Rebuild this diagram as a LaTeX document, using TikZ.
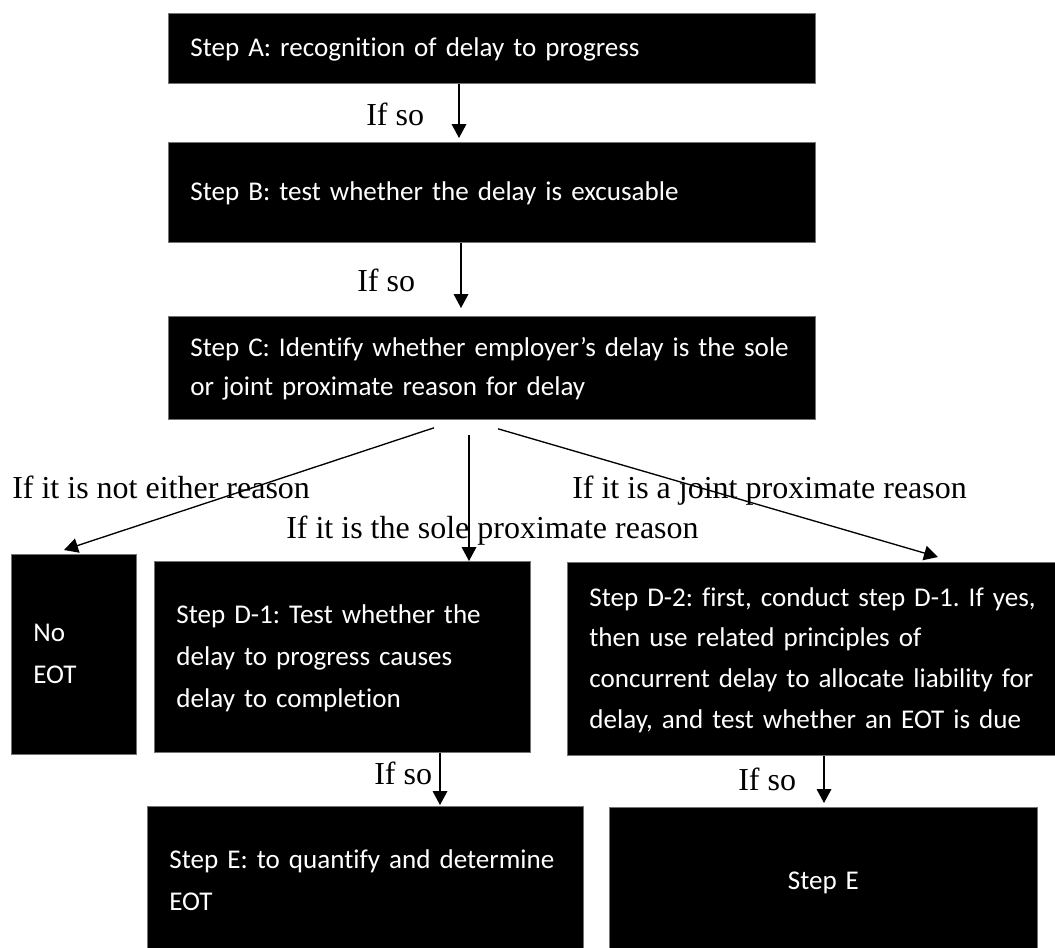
\documentclass[tikz,border=0pt]{standalone}
\usepackage{fontspec}
\setmainfont{Liberation Serif}
\newfontfamily\boxfont[Ligatures={NoCommon}]{Carlito}
\usetikzlibrary{arrows.meta,calc}

% left-aligned block of lines that never re-wraps
\newcommand\rows[1]{\begin{tabular}{@{}l@{}}#1\end{tabular}}

\begin{document}
\frenchspacing
\begin{tikzpicture}[x=0.75pt,y=-0.75pt,
  stepbox/.style={draw=black!55, line width=0.6pt, fill=black, text=white,
    font=\boxfont\frenchspacing\fontsize{20.3}{31.5}\selectfont, anchor=north west,
    inner xsep=16.5pt, inner ysep=0pt, align=left},
  lbl/.style={font=\fontsize{24}{28}\selectfont, anchor=base west, inner sep=0pt},
  arr/.style={-{Triangle[length=10.5pt,width=11pt]}, line width=1pt}]

\useasboundingbox (0,0) rectangle (1055,947);

% main chain
\node[stepbox, minimum width=485.25pt, minimum height=52.5pt, text width=452.25pt]
  (A) at (168,13) {\rows{Step A: recognition of delay to progress}};
\node[stepbox, minimum width=485.25pt, minimum height=75pt, text width=452.25pt]
  (B) at (168,142) {\rows{Step B: test whether the delay is excusable}};
\node[stepbox, minimum width=485.25pt, minimum height=77.25pt, text width=452.25pt,
  font=\boxfont\frenchspacing\fontsize{20.3}{29.5}\selectfont]
  (C) at (168,316) {\rows{Step C: Identify whether employer’s delay is the sole\\
  or joint proximate reason for delay}};

% outcomes of step C
\node[stepbox, minimum width=93.75pt, minimum height=150pt, text width=60.75pt]
  (N) at (11,554) {\rows{No\\EOT}};
\node[stepbox, minimum width=282pt, minimum height=143.25pt, text width=249pt]
  (D1) at (154,561) {\rows{Step D-1: Test whether the\\delay to progress causes\\delay to completion}};
\node[stepbox, minimum width=375pt, minimum height=144.75pt, text width=342pt,
  font=\boxfont\frenchspacing\fontsize{20.3}{30.5}\selectfont]
  (D2) at (567,562) {\rows{Step D-2: first, conduct step D-1. If yes,\\then use related principles of\\
  concurrent delay to allocate liability for\\delay, and test whether an EOT is due}};

% final step
\node[stepbox, minimum width=327pt, minimum height=112.5pt, text width=294pt]
  (E1) at (147,806) {\rows{Step E: to quantify and determine\\EOT}};
\node[stepbox, minimum width=321pt, minimum height=112.5pt, text width=288pt, align=center]
  (E2) at (609,807) {Step E};

% branch labels
\node[lbl] (s1) at (366,125) {If so};
\node[lbl] (s2) at (357,291) {If so};
\node[lbl] (rn) at (12,498) {If it is not either reason};
\node[lbl] (rs) at (286,538) {If it is the sole proximate reason};
\node[lbl] (rj) at (572,498) {If it is a joint proximate reason};
\node[lbl] (s3) at (374,784) {If so};
\node[lbl] (s4) at (738,790) {If so};

% connectors
\draw[arr] ($(A.south west)+(291,0)$) -- ($(B.north west)+(291,-4)$);
\draw[arr] ($(B.south west)+(293,0)$) -- ($(C.north west)+(293,-8)$);
\draw[arr] ($(C.south west)+(266,8)$) -- ($(N.north west)+(53,-4)$);
\draw[arr] ($(C.south west)+(301,15)$) -- ($(D1.north west)+(315,0)$);
\draw[arr] ($(C.south west)+(330,9)$) -- ($(D2.north west)+(371,-5)$);
\draw[arr] ($(D1.south west)+(286,0)$) -- ($(E1.north west)+(293,-1)$);
\draw[arr] ($(D2.south west)+(257,0)$) -- ($(E2.north west)+(215,-4)$);
\end{tikzpicture}
\end{document}
